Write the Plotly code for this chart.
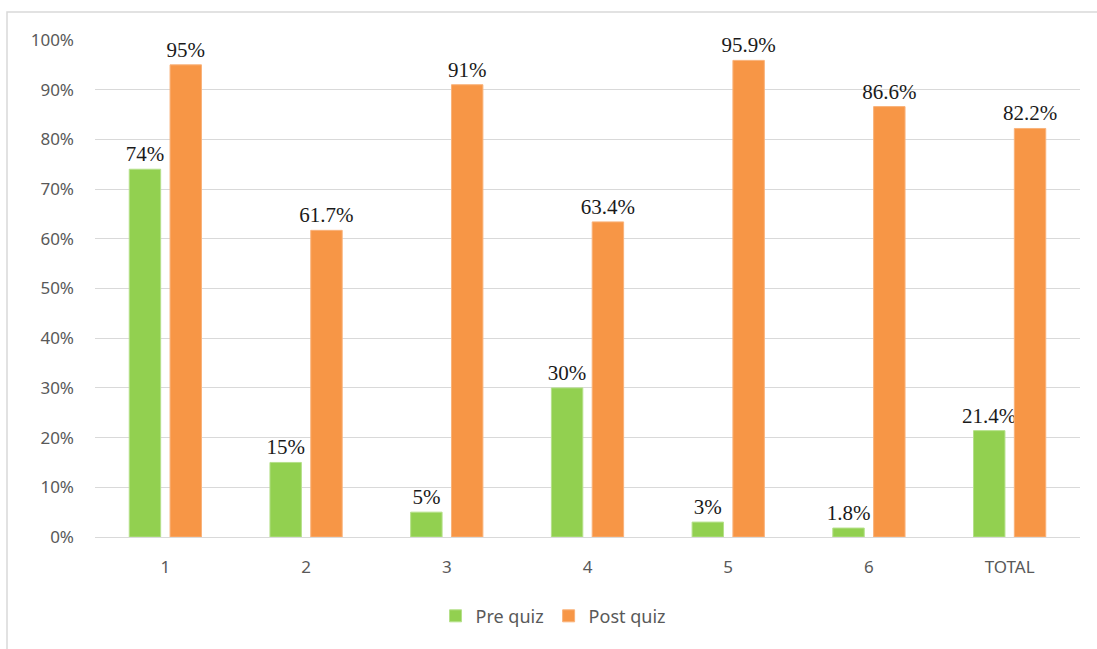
import plotly.graph_objects as go

categories = ["1", "2", "3", "4", "5", "6", "TOTAL"]
pre_quiz = [74, 15, 5, 30, 3, 1.8, 21.4]
post_quiz = [95, 61.7, 91, 63.4, 95.9, 86.6, 82.2]
pre_labels = ["74%", "15%", "5%", "30%", "3%", "1.8%", "21.4%"]
post_labels = ["95%", "61.7%", "91%", "63.4%", "95.9%", "86.6%", "82.2%"]
y_ticks = [0, 10, 20, 30, 40, 50, 60, 70, 80, 90, 100]
y_tick_labels = [f"{v}%" for v in y_ticks]

W, H = 1097, 649
L, R, T, B = 95, W - 1080, 40, H - 537

fig = go.Figure()
label_font = dict(family="Liberation Serif", size=21, color="#1a1a1a")
fig.add_trace(go.Bar(name="Pre quiz", x=categories, y=pre_quiz, text=pre_labels,
                     textposition="outside", textfont=label_font, cliponaxis=False,
                     constraintext="none",
                     marker=dict(color="#92D050", line=dict(color="#b5e08a", width=1))))
fig.add_trace(go.Bar(name="Post quiz", x=categories, y=post_quiz, text=post_labels,
                     textposition="outside", textfont=label_font, cliponaxis=False,
                     constraintext="none",
                     marker=dict(color="#F79646", line=dict(color="#f9b27a", width=1))))

pw = W - L - R
ph = H - T - B
fig.add_shape(type="rect", xref="paper", yref="paper",
              x0=(7 - L) / pw, x1=(W + 20 - L) / pw,
              y0=(537 - (H + 20)) / ph, y1=(537 - 12) / ph,
              line=dict(color="#d9d9d9", width=1.5), fillcolor="rgba(0,0,0,0)", layer="below")

tick_font = dict(family="Noto Sans", size=17, color="#595959")
fig.update_layout(
    width=W, height=H,
    margin=dict(l=L, r=R, t=T, b=B),
    plot_bgcolor="white", paper_bgcolor="white",
    barmode="group", bargap=0.42, bargroupgap=0.23,
    showlegend=True,
    legend=dict(orientation="h", x=0.465, xanchor="center", y=-0.122, yanchor="top",
                font=dict(family="Noto Sans", size=18, color="#595959"),
                itemwidth=30, traceorder="normal"),
    xaxis=dict(showgrid=False, showline=False, ticks="",
               ticklabelstandoff=18, tickfont=tick_font),
    yaxis=dict(range=[0, 100], tickvals=y_ticks, ticktext=y_tick_labels,
               showgrid=True, gridcolor="#d9d9d9", gridwidth=1,
               zeroline=True, zerolinecolor="#d9d9d9", zerolinewidth=1,
               showline=False, ticks="", ticklabelstandoff=20,
               tickfont=tick_font),
)

fig.write_html("out.html")
